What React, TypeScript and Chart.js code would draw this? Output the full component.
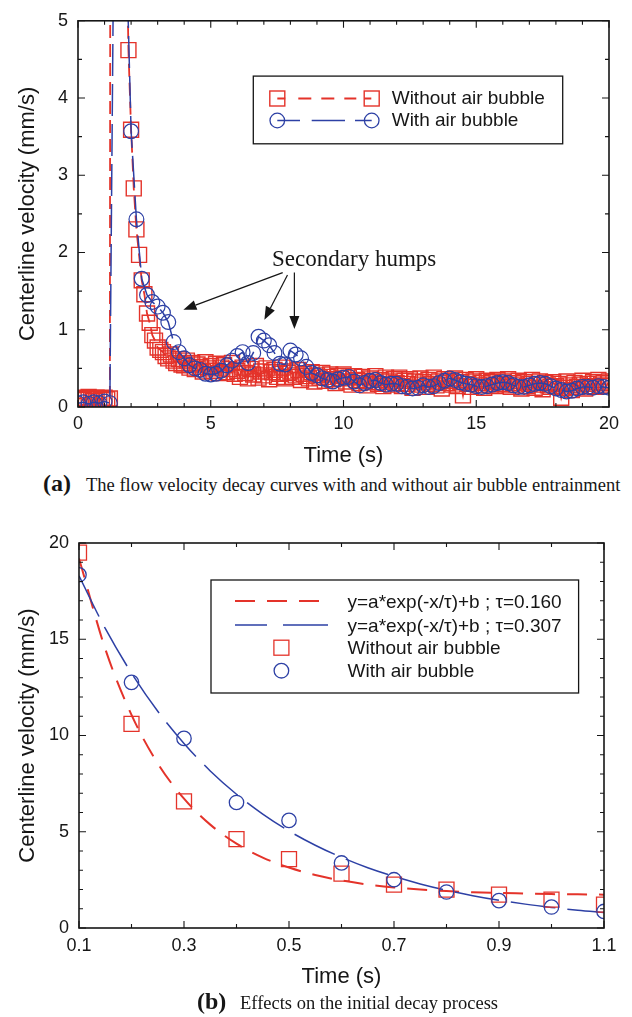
import React, { useEffect, useRef } from "react";
import { Chart, registerables } from "chart.js";

Chart.register(...registerables);

const RED = "#e4332a";
const BLUE = "#2d40a5";
const INK = "#161616";
const SANS = '"Liberation Sans", Arial, Helvetica, sans-serif';
const SERIF = '"Liberation Serif", "Times New Roman", Times, serif';

// ---------------- Panel (a): full decay curves ----------------
const aRedStep = 0.1; // s between "without air bubble" samples
const aBlueStep = 0.2; // s between "with air bubble" samples

const aRed = [
  0.10, 0.12, 0.09, 0.11, 0.13, 0.10, 0.08, 0.12, 0.11, 0.09, 0.12, 0.10, 0.11,
  38, 42, 31, 19.5, 10.6, 6.6, 4.62, 3.59, 2.83, 2.30, 1.97, 1.64, 1.46,
  1.21, 1.09, 0.93, 0.86, 0.77, 0.74, 0.71, 0.66, 0.63, 0.68, 0.60, 0.57, 0.62, 0.55,
  0.54, 0.60, 0.51, 0.57, 0.49, 0.55, 0.52, 0.46, 0.58, 0.50, 0.53, 0.47, 0.56, 0.44, 0.51, 0.54, 0.45, 0.49, 0.57, 0.43,
  0.47, 0.39, 0.51, 0.44, 0.37, 0.49, 0.42, 0.53, 0.38, 0.46, 0.41, 0.50, 0.36, 0.45, 0.48, 0.39, 0.43, 0.51, 0.37, 0.44,
  0.46, 0.39, 0.41, 0.48, 0.35, 0.43, 0.40, 0.37, 0.45, 0.33, 0.41, 0.38, 0.44, 0.34, 0.39, 0.42, 0.36, 0.31, 0.40, 0.37,
  0.42, 0.33, 0.38, 0.29, 0.40, 0.35, 0.31, 0.39, 0.34, 0.28, 0.37, 0.32, 0.40, 0.30, 0.35, 0.27, 0.38, 0.33, 0.29, 0.36,
  0.31, 0.38, 0.27, 0.34, 0.30, 0.36, 0.25, 0.33, 0.29, 0.37, 0.32, 0.26, 0.35, 0.30, 0.38, 0.28, 0.33, 0.24, 0.36, 0.31,
  0.34, 0.29, 0.37, 0.27, 0.32, 0.15, 0.35, 0.30, 0.26, 0.33, 0.36, 0.28, 0.31, 0.25, 0.34, 0.29, 0.32, 0.27, 0.35, 0.30,
  0.33, 0.28, 0.36, 0.26, 0.31, 0.29, 0.34, 0.24, 0.32, 0.27, 0.30, 0.35, 0.25, 0.29, 0.33, 0.23, 0.31, 0.28, 0.26, 0.32,
  0.27, 0.30, 0.12, 0.25, 0.33, 0.28, 0.22, 0.31, 0.26, 0.29, 0.34, 0.24, 0.30, 0.27, 0.32, 0.26, 0.35, 0.29, 0.31, 0.27, 0.33,
];

const aBlue = [
  0.05, 0.06, 0.04, 0.06, 0.05, 0.07, 0.05, 8.3, 25, 6.2,
  3.57, 2.43, 1.66, 1.45, 1.36, 1.30, 1.22, 1.10, 0.84, 0.71,
  0.63, 0.54, 0.50, 0.48, 0.43, 0.42, 0.43, 0.47, 0.54, 0.60,
  0.66, 0.71, 0.57, 0.70, 0.91, 0.86, 0.80, 0.70, 0.56, 0.55,
  0.73, 0.68, 0.63, 0.52, 0.44, 0.41, 0.37, 0.35, 0.33, 0.36,
  0.38, 0.39, 0.33, 0.28, 0.31, 0.34, 0.35, 0.31, 0.29, 0.30,
  0.30, 0.27, 0.26, 0.24, 0.25, 0.28, 0.26, 0.27, 0.31, 0.34,
  0.37, 0.35, 0.32, 0.30, 0.29, 0.27, 0.26, 0.27, 0.29, 0.31,
  0.32, 0.31, 0.28, 0.26, 0.26, 0.28, 0.30, 0.31, 0.30, 0.27,
  0.24, 0.22, 0.20, 0.21, 0.24, 0.26, 0.26, 0.25, 0.27, 0.26,
  0.25,
];

const aXTicks = [0, 5, 10, 15, 20];
const aXMinor = [1, 2, 3, 4, 6, 7, 8, 9, 11, 12, 13, 14, 16, 17, 18, 19];
const aYTicks = [0, 1, 2, 3, 4, 5];
const aYMinor = [0.5, 1.5, 2.5, 3.5, 4.5];
const aLegend = ["Without air bubble", "With air bubble"];
const aNote = "Secondary humps";
const aNoteAnchor = { x: 7.31, y: 1.83 };
// [fromX, fromY, toX, toY] in data units
const aArrows = [
  [7.71, 1.74, 3.97, 1.26],
  [7.89, 1.71, 7.02, 1.13],
  [8.15, 1.74, 8.15, 1.01],
];

// ---------------- Panel (b): initial decay ----------------
const bTime = [0.1, 0.2, 0.3, 0.4, 0.5, 0.6, 0.7, 0.8, 0.9, 1.0, 1.1];
const bRed = [19.5, 10.6, 6.58, 4.62, 3.58, 2.82, 2.25, 1.99, 1.73, 1.47, 1.21];
const bBlue = [18.35, 12.76, 9.85, 6.52, 5.59, 3.38, 2.51, 1.87, 1.42, 1.09, 0.86];
const bFitTime = [
  0.1, 0.15, 0.2, 0.25, 0.3, 0.35, 0.4, 0.45, 0.5, 0.55, 0.6,
  0.65, 0.7, 0.75, 0.8, 0.85, 0.9, 0.95, 1.0, 1.05, 1.1,
];
const bRedFit = [
  19.2, 14.5, 11.07, 8.55, 6.72, 5.37, 4.38, 3.66, 3.14, 2.75, 2.47,
  2.26, 2.11, 2.0, 1.92, 1.86, 1.82, 1.79, 1.76, 1.75, 1.73,
];
const bBlueFit = [
  18.29, 15.56, 13.24, 11.26, 9.59, 8.16, 6.95, 5.92, 5.04, 4.3, 3.67,
  3.13, 2.68, 2.29, 1.96, 1.68, 1.44, 1.24, 1.07, 0.92, 0.8,
];
const bXTicks = [0.1, 0.3, 0.5, 0.7, 0.9, 1.1];
const bXMinor = [0.2, 0.4, 0.6, 0.8, 1.0];
const bYTicks = [0, 5, 10, 15, 20];
const bYMinor = [1, 2, 3, 4, 6, 7, 8, 9, 11, 12, 13, 14, 16, 17, 18, 19];
const bLegend = [
  "y=a*exp(-x/τ)+b ; τ=0.160",
  "y=a*exp(-x/τ)+b ; τ=0.307",
  "Without air bubble",
  "With air bubble",
];

const captionA = "The flow velocity decay curves with and without air bubble entrainment";
const captionB = "Effects on the initial decay process";

// ---------------- helpers ----------------
function square(ctx: CanvasRenderingContext2D, x: number, y: number, s = 15) {
  ctx.strokeRect(x - s / 2, y - s / 2, s, s);
}
function circle(ctx: CanvasRenderingContext2D, x: number, y: number, r = 7.3) {
  ctx.beginPath();
  ctx.arc(x, y, r, 0, Math.PI * 2);
  ctx.stroke();
}
function hline(ctx: CanvasRenderingContext2D, x1: number, x2: number, y: number) {
  ctx.beginPath();
  ctx.moveTo(x1, y);
  ctx.lineTo(x2, y);
  ctx.stroke();
}
function arrow(ctx: CanvasRenderingContext2D, x1: number, y1: number, x2: number, y2: number) {
  const ang = Math.atan2(y2 - y1, x2 - x1);
  const L = 13;
  const W = 5;
  const bx = x2 - L * Math.cos(ang);
  const by = y2 - L * Math.sin(ang);
  ctx.beginPath();
  ctx.moveTo(x1, y1);
  ctx.lineTo(bx, by);
  ctx.stroke();
  ctx.beginPath();
  ctx.moveTo(x2, y2);
  ctx.lineTo(bx + W * Math.sin(ang), by - W * Math.cos(ang));
  ctx.lineTo(bx - W * Math.sin(ang), by + W * Math.cos(ang));
  ctx.closePath();
  ctx.fill();
}

type TickSet = { major: number[]; minor: number[] };

function framePlugin(xt: TickSet, yt: TickSet, extra: (chart: any) => void) {
  return {
    id: "frameTicks",
    afterDraw(chart: any) {
      const { ctx, chartArea: a } = chart;
      const sx = chart.scales.x;
      const sy = chart.scales.y;
      ctx.save();
      ctx.strokeStyle = INK;
      ctx.lineWidth = 1.1;
      ctx.setLineDash([]);
      ctx.beginPath();
      const vt = (vals: number[], len: number) =>
        vals.forEach((v) => {
          const p = sx.getPixelForValue(v);
          ctx.moveTo(p, a.bottom);
          ctx.lineTo(p, a.bottom - len);
          ctx.moveTo(p, a.top);
          ctx.lineTo(p, a.top + len);
        });
      const ht = (vals: number[], len: number) =>
        vals.forEach((v) => {
          const p = sy.getPixelForValue(v);
          ctx.moveTo(a.left, p);
          ctx.lineTo(a.left + len, p);
          ctx.moveTo(a.right, p);
          ctx.lineTo(a.right - len, p);
        });
      vt(xt.major, 7);
      vt(xt.minor, 4);
      ht(yt.major, 7);
      ht(yt.minor, 4);
      ctx.stroke();
      ctx.lineWidth = 1.6;
      ctx.strokeRect(a.left, a.top, a.right - a.left, a.bottom - a.top);
      ctx.restore();
      ctx.save();
      extra(chart);
      ctx.restore();
    },
  };
}

function drawExtrasA(chart: any) {
  const { ctx, chartArea: a } = chart;
  const sx = chart.scales.x;
  const sy = chart.scales.y;
  // legend box
  const L = a.left + 175.3;
  const T = a.top + 55.3;
  ctx.fillStyle = "#fff";
  ctx.fillRect(L, T, 309.4, 67.7);
  ctx.strokeStyle = INK;
  ctx.lineWidth = 1.3;
  ctx.strokeRect(L, T, 309.4, 67.7);
  const m1 = a.left + 199.3;
  const m2 = a.left + 293.7;
  const r1 = a.top + 77.7;
  const r2 = a.top + 99.7;
  ctx.strokeStyle = RED;
  ctx.lineWidth = 1.8;
  ctx.setLineDash([8, 13, 13, 10, 13, 10, 12, 8, 7]);
  hline(ctx, m1, m2, r1);
  ctx.setLineDash([]);
  ctx.lineWidth = 1.4;
  square(ctx, m1, r1);
  square(ctx, m2, r1);
  ctx.strokeStyle = BLUE;
  ctx.lineWidth = 1.5;
  ctx.setLineDash([22.7, 11.7, 33.3, 10, 16.7]);
  hline(ctx, m1, m2, r2);
  ctx.setLineDash([]);
  ctx.lineWidth = 1.3;
  circle(ctx, m1, r2);
  circle(ctx, m2, r2);
  ctx.fillStyle = INK;
  ctx.font = `19px ${SANS}`;
  ctx.textAlign = "left";
  ctx.textBaseline = "alphabetic";
  ctx.fillText(aLegend[0], a.left + 313.7, a.top + 83);
  ctx.fillText(aLegend[1], a.left + 313.7, a.top + 105.3);
  // annotation
  ctx.font = `23px ${SERIF}`;
  ctx.fillText(aNote, sx.getPixelForValue(aNoteAnchor.x), sy.getPixelForValue(aNoteAnchor.y));
  ctx.strokeStyle = INK;
  ctx.fillStyle = INK;
  ctx.lineWidth = 1.2;
  aArrows.forEach(([x1, y1, x2, y2]) =>
    arrow(
      ctx,
      sx.getPixelForValue(x1),
      sy.getPixelForValue(y1),
      sx.getPixelForValue(x2),
      sy.getPixelForValue(y2)
    )
  );
}

function drawExtrasB(chart: any) {
  const { ctx, chartArea: a } = chart;
  const L = a.left + 132;
  const T = a.top + 37;
  ctx.fillStyle = "#fff";
  ctx.fillRect(L, T, 367.6, 113);
  ctx.strokeStyle = INK;
  ctx.lineWidth = 1.3;
  ctx.strokeRect(L, T, 367.6, 113);
  const rows = [58, 82, 104.7, 127.7].map((d) => a.top + d);
  const s1 = a.left + 156;
  const s2 = a.left + 249;
  const mx = a.left + 202.4;
  ctx.strokeStyle = RED;
  ctx.lineWidth = 2;
  ctx.setLineDash([20, 12]);
  hline(ctx, s1, s2, rows[0]);
  ctx.strokeStyle = BLUE;
  ctx.lineWidth = 1.5;
  ctx.setLineDash([32, 16, 45, 16]);
  hline(ctx, s1, s2, rows[1]);
  ctx.setLineDash([]);
  ctx.lineWidth = 1.3;
  ctx.strokeStyle = RED;
  square(ctx, mx, rows[2]);
  ctx.strokeStyle = BLUE;
  circle(ctx, mx, rows[3]);
  ctx.fillStyle = INK;
  ctx.font = `19px ${SANS}`;
  ctx.textAlign = "left";
  ctx.textBaseline = "alphabetic";
  bLegend.forEach((t, i) => ctx.fillText(t, a.left + 268.5, rows[i] + 6.5));
}

function axis(min: number, max: number, ticks: number[], fmt: (v: number) => string, extra: any) {
  return {
    type: "linear",
    min,
    max,
    grid: { display: false, drawTicks: false },
    border: { display: false },
    afterBuildTicks: (s: any) => {
      s.ticks = ticks.map((v) => ({ value: v }));
    },
    ticks: {
      color: INK,
      font: { family: SANS, size: 18 },
      autoSkip: false,
      maxRotation: 0,
      callback: (v: any) => fmt(Number(v)),
      padding: extra.padding,
    },
    title: {
      display: true,
      text: extra.title,
      color: INK,
      font: { family: SANS, size: 22 },
      padding: extra.titlePadding,
    },
    afterFit: extra.afterFit,
  };
}

function configA(): any {
  return {
    type: "scatter",
    data: {
      datasets: [
        {
          label: aLegend[0],
          data: aRed.map((v, i) => ({ x: +(i * aRedStep).toFixed(2), y: v })),
          showLine: true,
          borderColor: RED,
          borderWidth: 1.8,
          borderDash: [13, 6],
          pointStyle: "rect",
          pointRadius: 10.6,
          pointBorderWidth: 1.4,
          pointBorderColor: RED,
          pointBackgroundColor: "rgba(0,0,0,0)",
          clip: 0,
          order: 1,
        },
        {
          label: aLegend[1],
          data: aBlue.map((v, i) => ({ x: +(i * aBlueStep).toFixed(2), y: v })),
          showLine: true,
          borderColor: BLUE,
          borderWidth: 1.5,
          borderDash: [32, 8],
          pointStyle: "circle",
          pointRadius: 7.4,
          pointBorderWidth: 1.2,
          pointBorderColor: BLUE,
          pointBackgroundColor: "rgba(0,0,0,0)",
          clip: 0,
          order: 0,
        },
      ],
    },
    options: {
      animation: false,
      responsive: false,
      events: [],
      layout: { padding: { top: 18, right: 23, left: 0, bottom: 0 } },
      plugins: { legend: { display: false }, tooltip: { enabled: false } },
      scales: {
        x: axis(0, 20, aXTicks, (v) => String(v), {
          padding: 6,
          title: "Time (s)",
          titlePadding: 0,
          afterFit: (s: any) => {
            s.height = 62;
          },
        }),
        y: axis(0, 5, aYTicks, (v) => String(v), {
          padding: 10,
          title: "Centerline velocity (mm/s)",
          titlePadding: { top: 15, bottom: 0 },
          afterFit: (s: any) => {
            s.width = 78;
          },
        }),
      },
    },
    plugins: [framePlugin({ major: aXTicks, minor: aXMinor }, { major: aYTicks, minor: aYMinor }, drawExtrasA)],
  };
}

function configB(): any {
  return {
    type: "scatter",
    data: {
      datasets: [
        {
          label: bLegend[3],
          data: bTime.map((t, i) => ({ x: t, y: bBlue[i] })),
          showLine: false,
          pointStyle: "circle",
          pointRadius: 7.2,
          pointBorderWidth: 1.3,
          pointBorderColor: BLUE,
          pointBackgroundColor: "rgba(0,0,0,0)",
          clip: 0,
          order: 0,
        },
        {
          label: bLegend[2],
          data: bTime.map((t, i) => ({ x: t, y: bRed[i] })),
          showLine: false,
          pointStyle: "rect",
          pointRadius: 10.6,
          pointBorderWidth: 1.3,
          pointBorderColor: RED,
          pointBackgroundColor: "rgba(0,0,0,0)",
          clip: 0,
          order: 1,
        },
        {
          label: bLegend[1],
          data: bFitTime.map((t, i) => ({ x: t, y: bBlueFit[i] })),
          showLine: true,
          borderColor: BLUE,
          borderWidth: 1.5,
          borderDash: [45, 12],
          cubicInterpolationMode: "monotone",
          pointRadius: 0,
          clip: 0,
          order: 2,
        },
        {
          label: bLegend[0],
          data: bFitTime.map((t, i) => ({ x: t, y: bRedFit[i] })),
          showLine: true,
          borderColor: RED,
          borderWidth: 2,
          borderDash: [20, 12],
          cubicInterpolationMode: "monotone",
          pointRadius: 0,
          clip: 0,
          order: 3,
        },
      ],
    },
    options: {
      animation: false,
      responsive: false,
      events: [],
      layout: { padding: { top: 33, right: 28, left: 0, bottom: 0 } },
      plugins: { legend: { display: false }, tooltip: { enabled: false } },
      scales: {
        x: axis(0.1, 1.1, bXTicks, (v) => v.toFixed(1), {
          padding: 7,
          title: "Time (s)",
          titlePadding: 0,
          afterFit: (s: any) => {
            s.height = 62;
          },
        }),
        y: axis(0, 20, bYTicks, (v) => String(v), {
          padding: 10,
          title: "Centerline velocity (mm/s)",
          titlePadding: { top: 15, bottom: 0 },
          afterFit: (s: any) => {
            s.width = 79;
          },
        }),
      },
    },
    plugins: [framePlugin({ major: bXTicks, minor: bXMinor }, { major: bYTicks, minor: bYMinor }, drawExtrasB)],
  };
}

export default function App() {
  const refA = useRef<HTMLCanvasElement>(null);
  const refB = useRef<HTMLCanvasElement>(null);

  useEffect(() => {
    const ca = new Chart(refA.current as HTMLCanvasElement, configA());
    const cb = new Chart(refB.current as HTMLCanvasElement, configB());
    return () => {
      ca.destroy();
      cb.destroy();
    };
  }, []);

  const abs = (left: number, top: number, font: string): React.CSSProperties => ({
    position: "absolute",
    left,
    top,
    font,
    color: INK,
    whiteSpace: "nowrap",
    lineHeight: 1,
  });

  return (
    <div
      style={{
        position: "absolute",
        left: 0,
        top: 0,
        width: 632,
        height: 1017,
        background: "#fff",
        overflow: "hidden",
      }}
    >
      <canvas ref={refA} width={632} height={469} style={{ position: "absolute", left: 0, top: 0 }} />
      <canvas ref={refB} width={632} height={480} style={{ position: "absolute", left: 0, top: 510 }} />
      <span style={abs(43, 471, `bold 24px ${SERIF}`)}>(a)</span>
      <span style={abs(86, 475.5, `18.5px ${SERIF}`)}>{captionA}</span>
      <span style={abs(197, 989, `bold 24px ${SERIF}`)}>(b)</span>
      <span style={abs(240, 993.5, `18.5px ${SERIF}`)}>{captionB}</span>
    </div>
  );
}
